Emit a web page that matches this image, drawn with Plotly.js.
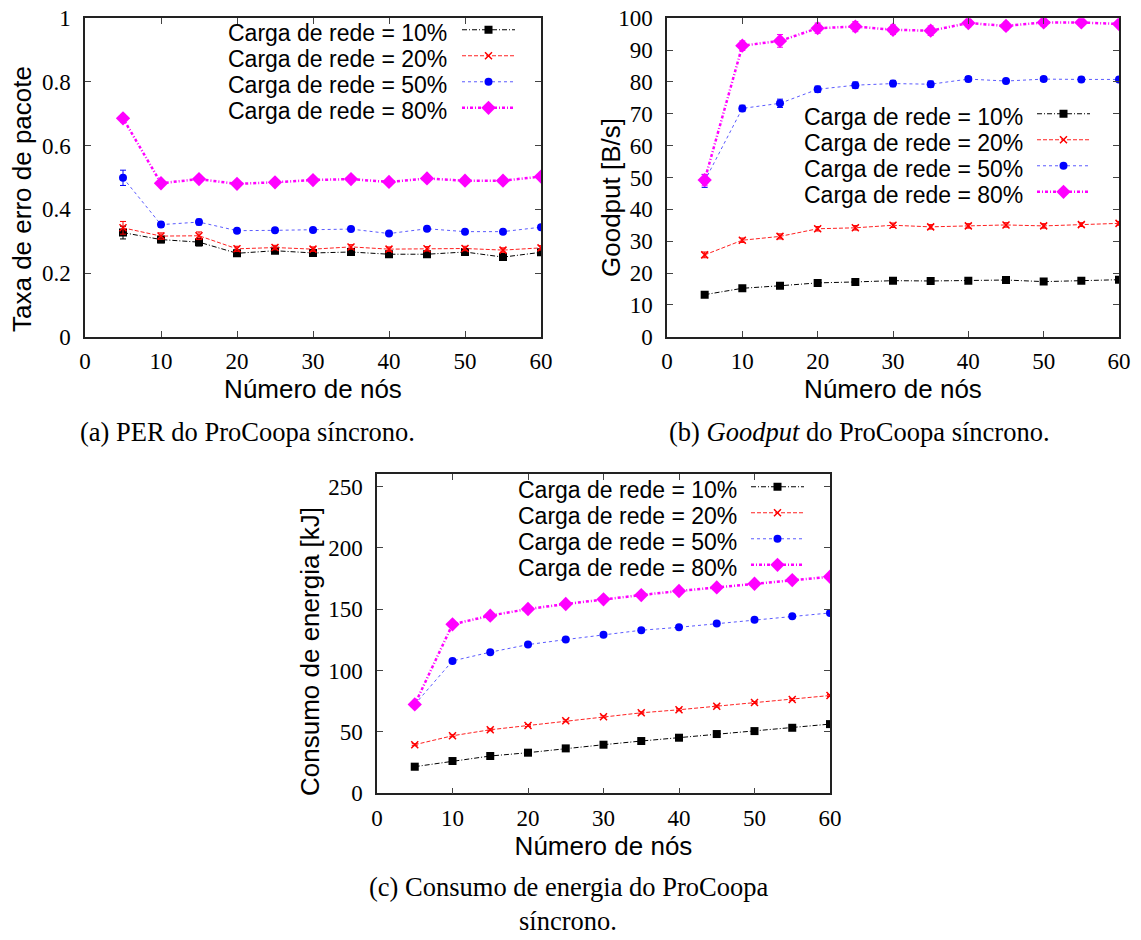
<!DOCTYPE html>
<html><head><meta charset="utf-8">
<script src="https://cdn.plot.ly/plotly-3.0.1.min.js"></script>
<style>html,body{margin:0;padding:0;background:#fff}#chart{width:1141px;height:940px}</style>
</head><body><div id="chart"></div>
<script>
// ---------- data ----------
const nodes = [5, 10, 15, 20, 25, 30, 35, 40, 45, 50, 55, 60];
const seriesNames = ['Carga de rede = 10%', 'Carga de rede = 20%', 'Carga de rede = 50%', 'Carga de rede = 80%'];

// (a) PER
const per10 = [0.327, 0.305, 0.297, 0.262, 0.270, 0.263, 0.266, 0.259, 0.259, 0.266, 0.250, 0.265];
const per20 = [0.342, 0.316, 0.317, 0.276, 0.280, 0.275, 0.282, 0.275, 0.276, 0.277, 0.272, 0.279];
const per50 = [0.499, 0.352, 0.360, 0.333, 0.334, 0.335, 0.338, 0.324, 0.339, 0.330, 0.330, 0.344];
const per80 = [0.686, 0.482, 0.495, 0.480, 0.485, 0.492, 0.495, 0.486, 0.497, 0.490, 0.490, 0.503];
const perErr10 = [0.020, 0.010, 0.012, 0.008, 0.007, 0.007, 0.007, 0.007, 0.007, 0.007, 0.007, 0.007];
const perErr20 = [0.020, 0.010, 0.012, 0.008, 0.007, 0.007, 0.007, 0.007, 0.007, 0.007, 0.007, 0.007];
const perErr50 = [0.024, 0.008, 0.009, 0.006, 0.006, 0.006, 0.006, 0.006, 0.006, 0.006, 0.006, 0.006];
const perErr80 = [0.012, 0.006, 0.006, 0.006, 0.006, 0.006, 0.006, 0.006, 0.006, 0.006, 0.006, 0.006];

// (b) Goodput
const gp10 = [13.2, 15.2, 16.0, 16.9, 17.2, 17.6, 17.5, 17.6, 17.8, 17.3, 17.6, 17.9];
const gp20 = [25.7, 30.3, 31.5, 33.9, 34.2, 35.0, 34.5, 34.8, 35.1, 34.8, 35.2, 35.6];
const gp50 = [48.9, 71.7, 73.3, 77.7, 79.0, 79.5, 79.3, 80.9, 80.3, 80.9, 80.8, 80.8];
const gp80 = [49.2, 91.4, 92.9, 96.9, 97.4, 96.4, 96.1, 98.5, 97.6, 98.7, 98.7, 98.2];
const gpErr10 = [0.5, 0.5, 0.5, 0.5, 0.5, 0.5, 0.5, 0.5, 0.5, 0.5, 0.5, 0.5];
const gpErr20 = [0.9, 0.7, 0.8, 0.7, 0.7, 0.7, 0.7, 0.7, 0.7, 0.7, 0.6, 0.6];
const gpErr50 = [2.0, 1.0, 1.3, 1.0, 1.0, 1.0, 1.0, 0.8, 0.8, 0.7, 0.7, 0.7];
const gpErr80 = [1.8, 1.5, 2.0, 1.6, 1.6, 1.5, 1.5, 1.2, 1.2, 1.2, 1.0, 1.0];

// (c) Energy consumption
const en10 = [21.7, 26.3, 30.4, 33.1, 36.6, 39.6, 42.6, 45.3, 48.3, 50.7, 53.4, 56.4];
const en20 = [39.6, 46.9, 51.8, 55.3, 59.1, 62.4, 65.6, 68.1, 71.0, 74.0, 76.5, 79.7];
const en50 = [72.4, 107.9, 115.0, 121.2, 125.3, 129.3, 132.9, 135.3, 138.3, 141.5, 144.3, 147.0];
const en80 = [72.4, 137.7, 144.8, 150.2, 154.3, 158.1, 161.6, 164.9, 167.8, 170.8, 173.8, 176.5];
const enErr10 = [0.6, 0.6, 0.6, 0.6, 0.6, 0.6, 0.6, 0.6, 0.6, 0.6, 0.6, 0.6];
const enErr20 = [0.8, 0.8, 0.8, 0.8, 0.8, 0.8, 0.8, 0.8, 0.8, 0.8, 0.8, 0.8];
const enErr50 = [0.8, 0.8, 0.8, 0.8, 0.8, 0.8, 0.8, 0.8, 0.8, 0.8, 0.8, 0.8];
const enErr80 = [0.8, 0.8, 0.8, 0.8, 0.8, 0.8, 0.8, 0.8, 0.8, 0.8, 0.8, 0.8];

const xTicks = [0, 10, 20, 30, 40, 50, 60];
const xTitle = 'Número de nós';
const yTitles = ['Taxa de erro de pacote', 'Goodput [B/s]', 'Consumo de energia [kJ]'];
const captions = ['(a) PER do ProCoopa síncrono.', '(b) <i>Goodput</i> do ProCoopa síncrono.',
                  '(c) Consumo de energia do ProCoopa', 'síncrono.'];

// ---------- styling ----------
const W = 1141, H = 940;
const px = v => v / W, py = v => (H - v) / H;
const SANS = 'Liberation Sans, Arial, Helvetica, sans-serif';
const SERIF = 'Liberation Serif, Times New Roman, serif';

const styles = [
  {line: {color: '#000000', width: 1, dash: '5px,2px,1px,2px'}, marker: {symbol: 'square', size: 8, color: '#000000'}, ec: '#000000'},
  {line: {color: '#ff2020', width: 1, dash: '4px,2px'}, marker: {symbol: 'x-thin', size: 7, color: '#ff0000', line: {color: '#ff0000', width: 1.5}}, ec: '#ff0000'},
  {line: {color: '#5a5aff', width: 1, dash: 'dot'}, marker: {symbol: 'circle', size: 8, color: '#0000ff'}, ec: '#0000ff'},
  {line: {color: '#ff00ff', width: 2.5, dash: '3px,2px,1px,2px'}, marker: {symbol: 'diamond', size: 11, color: '#ff00ff'}, ec: '#ff00ff'}
];

function mk(y, err, i, xa, ya, leg) {
  const s = styles[i];
  return {
    x: nodes, y: y, type: 'scatter', mode: 'lines+markers',
    xaxis: xa, yaxis: ya, legend: leg, name: '',
    line: s.line, marker: s.marker,
    error_y: {type: 'data', array: err, visible: true, color: s.ec, thickness: 1, width: 3},
    hoverinfo: 'x+y'
  };
}

const data = [
  mk(per10, perErr10, 0, 'x', 'y', 'legend'),
  mk(per20, perErr20, 1, 'x', 'y', 'legend'),
  mk(per50, perErr50, 2, 'x', 'y', 'legend'),
  mk(per80, perErr80, 3, 'x', 'y', 'legend'),
  mk(gp10, gpErr10, 0, 'x2', 'y2', 'legend2'),
  mk(gp20, gpErr20, 1, 'x2', 'y2', 'legend2'),
  mk(gp50, gpErr50, 2, 'x2', 'y2', 'legend2'),
  mk(gp80, gpErr80, 3, 'x2', 'y2', 'legend2'),
  mk(en10, enErr10, 0, 'x3', 'y3', 'legend3'),
  mk(en20, enErr20, 1, 'x3', 'y3', 'legend3'),
  mk(en50, enErr50, 2, 'x3', 'y3', 'legend3'),
  mk(en80, enErr80, 3, 'x3', 'y3', 'legend3')
];

function axBase() {
  return {
    showline: true, linecolor: '#222', linewidth: 1.5, mirror: 'ticks',
    ticks: 'inside', ticklen: 6, tickwidth: 1, tickcolor: '#444',
    showgrid: false, zeroline: false, fixedrange: true,
    tickfont: {family: SERIF, size: 23, color: '#000'}
  };
}
function xAx(dom, anchor) {
  return Object.assign(axBase(), {
    domain: dom, anchor: anchor, range: [0, 60], tickvals: xTicks, ticklabelstandoff: 3,
    title: {text: xTitle, font: {family: SANS, size: 26, color: '#000'}, standoff: 4}
  });
}
function yAx(dom, anchor, range, dtick) {
  return Object.assign(axBase(), {
    domain: dom, anchor: anchor, range: range, dtick: dtick, tick0: 0, ticklabelstandoff: 8
  });
}

const domA = [px(85), px(541)], domB = [px(667), px(1119)], domC = [px(377), px(830)];
const domTop = [py(336.7), py(18.3)], domBot = [py(793.3), py(474.3)];

const ROW = 26;
const annotations = [];
function legendText(xRight, firstRow) {
  seriesNames.forEach((t, k) => annotations.push({
    xref: 'paper', yref: 'paper', x: px(xRight), y: py(firstRow + k * ROW), xanchor: 'right', yanchor: 'middle',
    text: t, showarrow: false, font: {family: SANS, size: 23, color: '#000'}
  }));
}
legendText(449, 32.75);
legendText(1025, 116.75);
legendText(739, 489.75);

function yTitle(text, xc, yc) {
  annotations.push({xref: 'paper', yref: 'paper', x: px(xc), y: py(yc), xanchor: 'center', yanchor: 'middle',
    text: text, textangle: -90, showarrow: false, font: {family: SANS, size: 26, color: '#000'}});
}
yTitle(yTitles[0], 22, 199);
yTitle(yTitles[1], 611, 198);
yTitle(yTitles[2], 310, 652);

function caption(text, xc, yc) {
  annotations.push({xref: 'paper', yref: 'paper', x: px(xc), y: py(yc), xanchor: 'center', yanchor: 'middle',
    text: text, showarrow: false, font: {family: SERIF, size: 26.5, color: '#000'}});
}
caption(captions[0], 247, 432);
caption(captions[1], 859, 432);
caption(captions[2], 568, 887);
caption(captions[3], 568, 921);

function legendBox(xStart, firstRow) {
  return {
    x: px(xStart), y: py(firstRow - 21), xanchor: 'left', yanchor: 'top',
    bgcolor: 'rgba(0,0,0,0)', borderwidth: 0, itemwidth: 53, tracegroupgap: 0,
    font: {family: SANS, size: 17.7, color: '#000'}, itemclick: false, itemdoubleclick: false
  };
}

const layout = {
  width: W, height: H, margin: {l: 0, r: 0, t: 0, b: 0},
  paper_bgcolor: '#fff', plot_bgcolor: '#fff', showlegend: true,
  xaxis: xAx(domA, 'y'), yaxis: yAx(domTop, 'x', [0, 1], 0.2),
  xaxis2: xAx(domB, 'y2'), yaxis2: yAx(domTop, 'x2', [0, 100], 10),
  xaxis3: xAx(domC, 'y3'), yaxis3: yAx(domBot, 'x3', [0, 260], 50),
  legend: legendBox(457, 32.75), legend2: legendBox(1032, 116.75), legend3: legendBox(746, 489.75),
  annotations: annotations
};

Plotly.newPlot('chart', data, layout, {displayModeBar: false, staticPlot: false});
</script></body></html>
